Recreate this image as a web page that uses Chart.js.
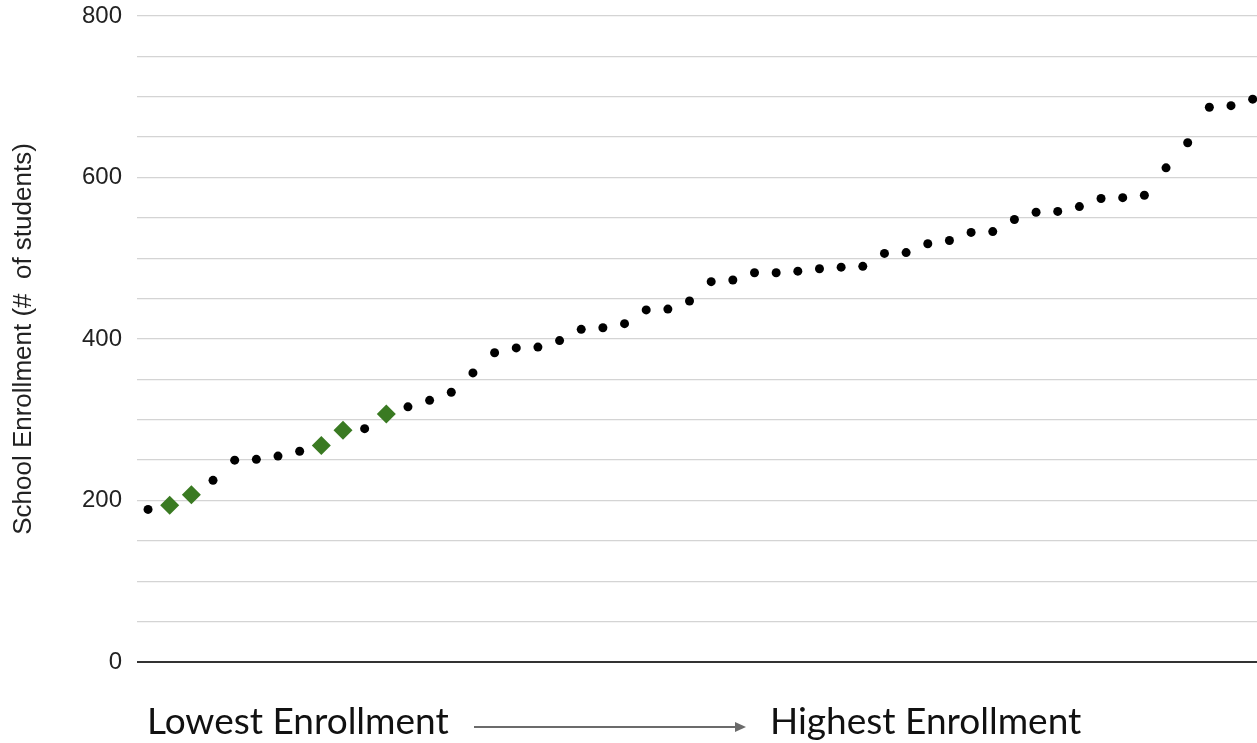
<!DOCTYPE html>
<html>
<head>
<meta charset="utf-8">
<script src="https://cdn.jsdelivr.net/npm/chart.js@4"></script>
<style>
  html, body { margin: 0; padding: 0; background: #fff; }
  #wrap { position: relative; width: 1257px; height: 743px; overflow: hidden; }
  #chart { position: absolute; left: 0; top: 0; }
  .endLabel {
    position: absolute; top: 701px; line-height: 1;
    font-family: Lato, sans-serif; font-size: 37px; color: #111; white-space: nowrap;
  }
  #arrowLine { position: absolute; left: 474px; top: 726px; width: 262px; height: 2px; background: #6b6b6b; }
  #arrowHead {
    position: absolute; left: 735px; top: 722px; width: 0; height: 0;
    border-top: 5px solid transparent; border-bottom: 5px solid transparent; border-left: 11px solid #6b6b6b;
  }
</style>
</head>
<body>
<div id="wrap">
  <canvas id="chart" width="1257" height="743"></canvas>
  <div class="endLabel" style="left:147px">Lowest Enrollment</div>
  <div id="arrowLine"></div>
  <div id="arrowHead"></div>
  <div class="endLabel" style="left:770px">Highest Enrollment</div>
</div>
<script>
// enrollment per school, sorted lowest -> highest
const enrollment = [
  189, 194, 207, 225, 250, 251, 255, 261, 268, 287,
  289, 307, 316, 324, 334, 358, 383, 389, 390, 398,
  412, 414, 419, 436, 437, 447, 471, 473, 482, 482,
  484, 487, 489, 490, 506, 507, 518, 522, 532, 533,
  548, 557, 558, 564, 574, 575, 578, 612, 643, 687,
  689, 697
];
// schools shown as green diamonds (1-based position)
const highlighted = [2, 3, 9, 10, 12];
const yTicksLabeled = [0, 200, 400, 600, 800];

const otherPts = [];
const highPts = [];
enrollment.forEach((v, i) => {
    const p = { x: i + 1, y: v };
    if (highlighted.includes(i + 1)) highPts.push(p);
    else otherPts.push(p);
});

const ctx = document.getElementById('chart').getContext('2d');
new Chart(ctx, {
    type: 'scatter',
    data: {
        datasets: [
            {
                label: 'Schools',
                data: otherPts,
                backgroundColor: '#000',
                borderColor: '#000',
                pointRadius: 4.5,
                pointBorderWidth: 0,
                clip: false
            },
            {
                label: 'Highlighted',
                data: highPts,
                pointStyle: 'rectRot',
                backgroundColor: '#3a7a22',
                borderColor: '#3a7a22',
                pointRadius: 9.5,
                pointBorderWidth: 0,
                clip: false
            }
        ]
    },
    options: {
        responsive: false,
        animation: false,
        layout: { autoPadding: false, padding: { top: 16, right: 0, bottom: 81, left: 0 } },
        scales: {
            x: {
                type: 'linear',
                min: 0.49,
                max: 52.2,
                display: false
            },
            y: {
                min: 0,
                max: 800,
                afterFit: (axis) => {
                    axis.width = 137;
                    // let the top label hang over the plot edge like the original
                    axis.paddingTop = 0;
                    axis.paddingBottom = 0;
                },
                border: { display: false },
                grid: {
                    drawTicks: false,
                    color: (c) => c.tick.value === 0 ? '#333' : '#d4d4d4',
                    lineWidth: (c) => c.tick.value === 0 ? 2 : 1.3
                },
                ticks: {
                    stepSize: 50,
                    padding: 15,
                    color: '#222',
                    font: { family: 'Liberation Sans', size: 24 },
                    callback: (v) => yTicksLabeled.includes(v) ? String(v) : ''
                },
                title: {
                    display: true,
                    text: 'School Enrollment (#  of students)',
                    color: '#222',
                    font: { family: 'Liberation Sans', size: 26 },
                    padding: { top: 8, bottom: 0 }
                }
            }
        },
        plugins: {
            legend: { display: false },
            tooltip: { enabled: false }
        }
    }
});
</script>
</body>
</html>
